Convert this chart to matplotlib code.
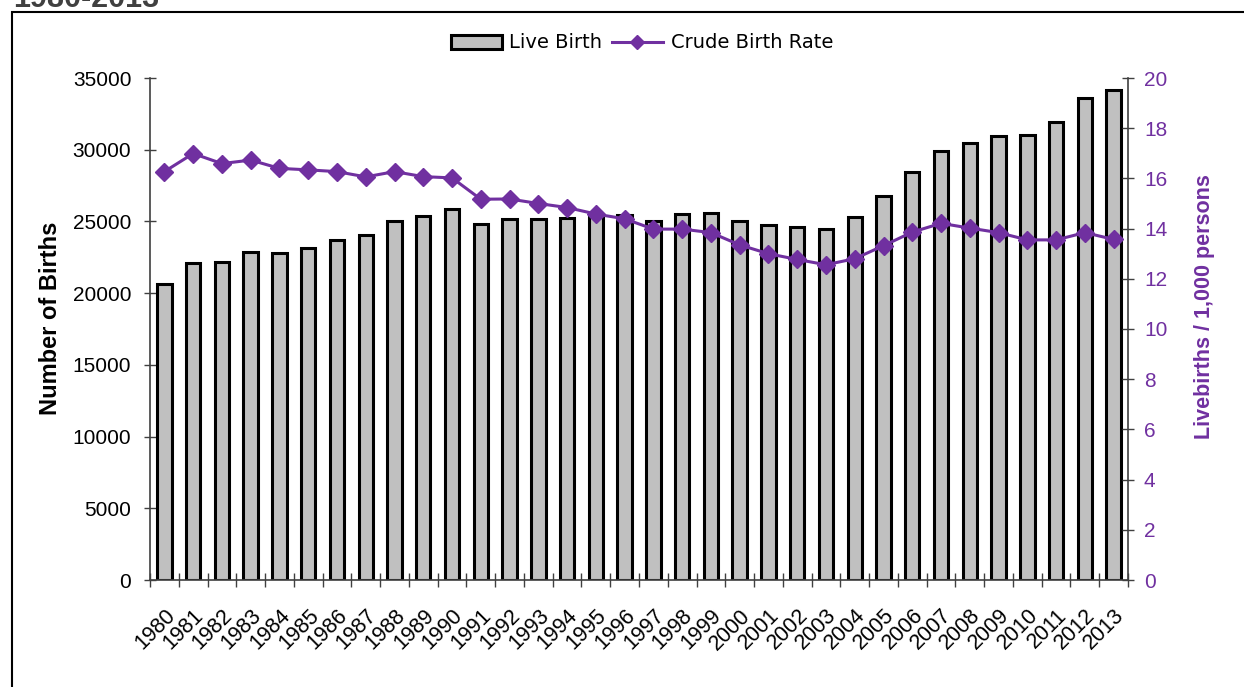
import matplotlib
matplotlib.use("Agg")
import matplotlib.pyplot as plt
from matplotlib.patches import Rectangle
import numpy as np

years = [str(y) for y in range(1980, 2014)]
live_births = [20620, 22070, 22190, 22900, 22810, 23140, 23720, 24040, 25000, 25370,
               25860, 24840, 25160, 25160, 25260, 25310, 25440, 25060, 25500, 25560,
               25030, 24760, 24600, 24480, 25330, 26780, 28450, 29890, 30450, 30960,
               31030, 31910, 33610, 34160]
crude_birth_rate = [16.27, 16.99, 16.59, 16.73, 16.40, 16.34, 16.27, 16.06, 16.27, 16.07,
                    16.02, 15.17, 15.18, 15.00, 14.84, 14.58, 14.39, 13.98, 13.98, 13.84,
                    13.35, 13.00, 12.77, 12.56, 12.80, 13.32, 13.86, 14.21, 14.02, 13.84,
                    13.55, 13.55, 13.84, 13.57]

purple = "#7030A0"
axis_col = "#404040"

W, H = 1244, 687
fig = plt.figure(figsize=(W / 100, H / 100), dpi=100)
plt.rcParams['font.family'] = ['Liberation Sans', 'DejaVu Sans']

# border box and cropped title
fig.patches.append(Rectangle((12 / W, -0.1), 1.2, 1 - 12 / H + 0.1, transform=fig.transFigure,
                             fill=False, edgecolor='black', linewidth=1.5))
fig.text(13 / W, 1 - 7 / H, "1980-2013", fontsize=22, fontweight='bold', color='#404040',
         va='baseline', ha='left')

ax = fig.add_axes([150 / W, 1 - 580 / H, (1128 - 150) / W, (580 - 78) / H])
x = np.arange(len(years))
ax.bar(x, live_births, width=0.5, color='#C0C0C0', edgecolor='black', linewidth=2.2,
       label='Live Birth', zorder=2)
ax.set_xlim(-0.5, len(years) - 0.5)
ax.set_ylim(0, 35000)
ax.set_yticks(range(0, 35001, 5000))
ax.tick_params(axis='y', direction='inout', length=9, width=1, color=axis_col,
               labelsize=15, pad=9)
ax.set_xticks(x)
ax.set_xticklabels(years, rotation=45, ha='right', rotation_mode='anchor', fontsize=15.5)
ax.tick_params(axis='x', which='major', length=0, pad=18)
ax.set_xticks(np.arange(-0.5, len(years), 1), minor=True)
ax.tick_params(axis='x', which='minor', direction='inout', length=10, width=1, color=axis_col)
for s in ['top', 'right']:
    ax.spines[s].set_visible(False)
for s in ['left', 'bottom']:
    ax.spines[s].set_color(axis_col)
    ax.spines[s].set_linewidth(1.2)
ax.set_ylabel("Number of Births", fontsize=17, fontweight='bold')
ax.yaxis.set_label_coords(-88 / 978, (580 - 318) / 502)

ax2 = ax.twinx()
ax2.plot(x, crude_birth_rate, color=purple, linewidth=2.2, marker='D', markersize=9.5,
         label='Crude Birth Rate', zorder=3)
ax2.set_ylim(0, 20)
ax2.set_yticks(range(0, 21, 2))
ax2.tick_params(axis='y', direction='inout', length=9, width=1, color=axis_col,
                labelsize=15, labelcolor=purple, pad=7)
for s in ['top', 'left', 'bottom']:
    ax2.spines[s].set_visible(False)
ax2.spines['right'].set_color(axis_col)
ax2.spines['right'].set_linewidth(1.2)
ax2.set_ylabel("Livebirths / 1,000 persons", fontsize=15.5, fontweight='bold', color=purple)
ax2.yaxis.set_label_coords(1 + 66 / 978, (580 - 307) / 502)

h1, l1 = ax.get_legend_handles_labels()
h2, l2 = ax2.get_legend_handles_labels()
fig.legend(h1 + h2, l1 + l2, loc='center', bbox_to_anchor=(642 / W, 1 - 43 / H), ncol=2,
           frameon=False, prop={'family': 'DejaVu Sans', 'size': 14},
           handlelength=2.6, handletextpad=0.4, columnspacing=0.5, markerscale=0.7)

fig.savefig("out.png", dpi=100)
